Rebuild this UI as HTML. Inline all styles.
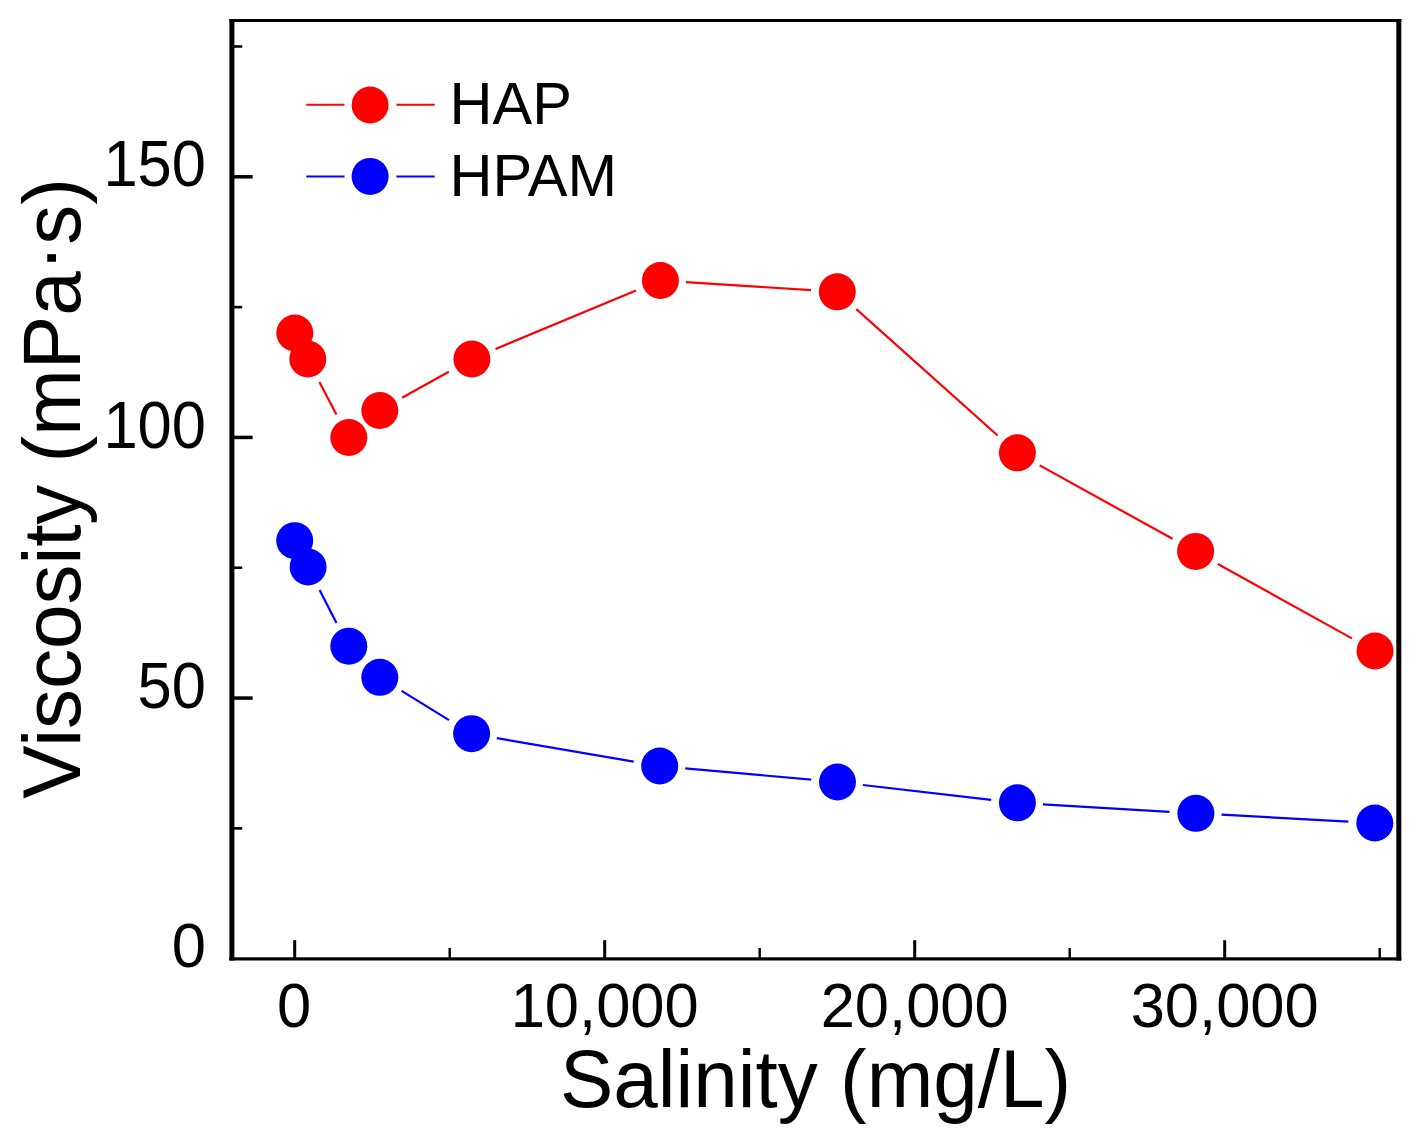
<!DOCTYPE html>
<html><head><meta charset="utf-8"><style>
html,body{margin:0;padding:0;background:#fff;}
body{width:1422px;height:1137px;overflow:hidden;}
svg{display:block;}
text{font-family:"Liberation Sans",sans-serif;fill:#000;}
</style></head><body>
<svg width="1422" height="1137" viewBox="0 0 1422 1137">
<rect width="1422" height="1137" fill="#fff"/>
<!-- frame -->
<rect x="229.4" y="19" width="5" height="941.5" fill="#000"/>
<rect x="1396.3" y="19" width="5" height="941.5" fill="#000"/>
<rect x="229.4" y="19" width="1171.9" height="3" fill="#000"/>
<rect x="229.4" y="957.3" width="1171.9" height="3.2" fill="#000"/>
<rect x="232" y="696.32" width="20.6" height="3.5" fill="#000"/>
<rect x="232" y="435.68" width="20.6" height="3.5" fill="#000"/>
<rect x="232" y="175.05" width="20.6" height="3.5" fill="#000"/>
<rect x="232" y="827.08" width="10.2" height="2.6" fill="#000"/>
<rect x="232" y="566.45" width="10.2" height="2.6" fill="#000"/>
<rect x="232" y="305.81" width="10.2" height="2.6" fill="#000"/>
<rect x="232" y="45.18" width="10.2" height="2.6" fill="#000"/>
<rect x="293.20" y="940.2" width="3" height="19" fill="#000"/>
<rect x="603.20" y="940.2" width="3" height="19" fill="#000"/>
<rect x="913.20" y="940.2" width="3" height="19" fill="#000"/>
<rect x="1223.20" y="940.2" width="3" height="19" fill="#000"/>
<rect x="448.50" y="948" width="2.4" height="11" fill="#000"/>
<rect x="758.50" y="948" width="2.4" height="11" fill="#000"/>
<rect x="1068.50" y="948" width="2.4" height="11" fill="#000"/>
<rect x="1378.50" y="948" width="2.4" height="11" fill="#000"/>
<!-- y tick labels -->
<g font-size="61.5" text-anchor="end">
<text transform="translate(206,185.7) scale(1,1.04)">150</text>
<text transform="translate(206,447.5) scale(1,1.09)">100</text>
<text transform="translate(206,708.4) scale(1,1.05)">50</text>
<text transform="translate(206,967.4) scale(1,1.03)">0</text>
</g>
<g font-size="61.5" text-anchor="middle">
<text transform="translate(294.2,1026.6) scale(1,1.025)">0</text>
<text transform="translate(604.7,1027.4) scale(1,1.025)">10,000</text>
<text transform="translate(914.7,1027.4) scale(1,1.025)">20,000</text>
<text transform="translate(1224.7,1027.4) scale(1,1.025)">30,000</text>
</g>
<text transform="translate(560,1107) scale(1,1.03)" font-size="80">Salinity (mg/L)</text>
<text transform="translate(80.2,488.4) rotate(-90) scale(1,1.02)" text-anchor="middle" font-size="80">Viscosity (mPa<tspan dy="-6">·</tspan><tspan dy="6">s)</tspan></text>
<!-- legend -->
<line x1="306.3" y1="104.7" x2="344.5" y2="104.7" stroke="#f00" stroke-width="2"/>
<line x1="396.4" y1="104.7" x2="434.7" y2="104.7" stroke="#f00" stroke-width="2"/>
<circle cx="370.1" cy="105" r="18.5" fill="#f00"/>
<line x1="306.3" y1="176.4" x2="344.5" y2="176.4" stroke="#00f" stroke-width="2"/>
<line x1="396.4" y1="176.4" x2="434.7" y2="176.4" stroke="#00f" stroke-width="2"/>
<circle cx="370.1" cy="176.4" r="18.5" fill="#00f"/>
<g font-size="59.5">
<text x="449.6" y="124.2">HAP</text>
<text x="449.6" y="196.2">HPAM</text>
</g>
<!-- data -->
<line x1="319.4" y1="382.0" x2="336.4" y2="414.5" stroke="#f00" stroke-width="2.2"/>
<line x1="402.1" y1="397.8" x2="448.8" y2="371.7" stroke="#f00" stroke-width="2.2"/>
<line x1="495.5" y1="349.0" x2="636.0" y2="290.5" stroke="#f00" stroke-width="2.2"/>
<line x1="685.9" y1="282.2" x2="811.0" y2="290.1" stroke="#f00" stroke-width="2.2"/>
<line x1="856.3" y1="309.1" x2="997.6" y2="435.5" stroke="#f00" stroke-width="2.2"/>
<line x1="1039.7" y1="465.4" x2="1172.5" y2="538.8" stroke="#f00" stroke-width="2.2"/>
<line x1="1217.9" y1="564.0" x2="1351.9" y2="638.4" stroke="#f00" stroke-width="2.2"/>
<line x1="319.6" y1="590.1" x2="336.5" y2="623.1" stroke="#00f" stroke-width="2.2"/>
<line x1="401.6" y1="690.9" x2="449.0" y2="720.1" stroke="#00f" stroke-width="2.2"/>
<line x1="496.8" y1="738.1" x2="633.7" y2="761.6" stroke="#00f" stroke-width="2.2"/>
<line x1="685.2" y1="768.3" x2="811.2" y2="779.7" stroke="#00f" stroke-width="2.2"/>
<line x1="862.9" y1="785.0" x2="991.2" y2="799.8" stroke="#00f" stroke-width="2.2"/>
<line x1="1043.0" y1="804.3" x2="1169.5" y2="811.8" stroke="#00f" stroke-width="2.2"/>
<line x1="1221.5" y1="814.7" x2="1348.4" y2="821.6" stroke="#00f" stroke-width="2.2"/>
<circle cx="294.8" cy="333.0" r="18.5" fill="#f00"/>
<circle cx="307.8" cy="359.0" r="18.5" fill="#f00"/>
<circle cx="348.8" cy="437.5" r="18.5" fill="#f00"/>
<circle cx="379.8" cy="410.5" r="18.5" fill="#f00"/>
<circle cx="471.9" cy="359.0" r="18.5" fill="#f00"/>
<circle cx="660.4" cy="280.5" r="18.5" fill="#f00"/>
<circle cx="837.3" cy="291.8" r="18.5" fill="#f00"/>
<circle cx="1017.4" cy="452.8" r="18.5" fill="#f00"/>
<circle cx="1195.6" cy="551.4" r="18.5" fill="#f00"/>
<circle cx="1375.0" cy="651.0" r="18.5" fill="#f00"/>
<circle cx="294.7" cy="540.7" r="18.5" fill="#00f"/>
<circle cx="308.1" cy="567.0" r="18.5" fill="#00f"/>
<circle cx="348.8" cy="646.2" r="18.5" fill="#00f"/>
<circle cx="379.8" cy="677.3" r="18.5" fill="#00f"/>
<circle cx="471.6" cy="733.7" r="18.5" fill="#00f"/>
<circle cx="659.7" cy="766.0" r="18.5" fill="#00f"/>
<circle cx="837.5" cy="782.0" r="18.5" fill="#00f"/>
<circle cx="1017.4" cy="802.8" r="18.5" fill="#00f"/>
<circle cx="1195.9" cy="813.3" r="18.5" fill="#00f"/>
<circle cx="1374.8" cy="823.0" r="18.5" fill="#00f"/>
</svg>
</body></html>
